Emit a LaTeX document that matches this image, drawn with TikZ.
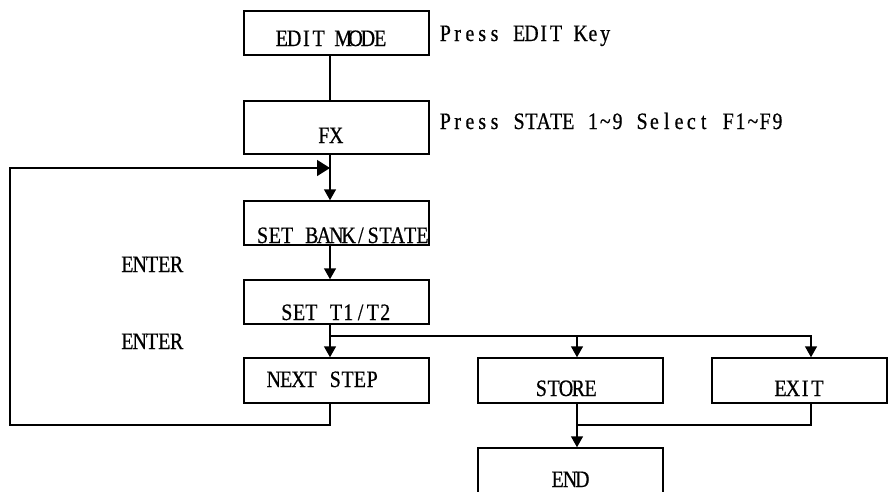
\documentclass[tikz,border=0pt]{standalone}
\usepackage{fontspec}
\setmainfont{Liberation Serif}[FakeStretch=0.85, FakeBold=0.6]
\usetikzlibrary{arrows.meta}
\ExplSyntaxOn
\NewDocumentCommand\monotext{m}{\str_map_inline:nn {#1} {\makebox[12.3pt]{##1}}}
\ExplSyntaxOff
\tikzset{
  box/.style={draw, line width=1.5pt, inner sep=0pt, minimum width=185pt, minimum height=44pt},
  lbl/.style={anchor=base, inner sep=0pt, font=\fontsize{23.5}{26}\selectfont},
  lbll/.style={anchor=base west, inner sep=0pt, font=\fontsize{23.5}{26}\selectfont},
  conn/.style={line width=1.5pt},
  arr/.style={conn, -{Triangle[length=11pt,width=12pt]}},
  bigarr/.style={conn, -{Triangle[length=13pt,width=16pt]}}
}
\begin{document}
\begin{tikzpicture}[x=1pt,y=-1pt]
\useasboundingbox (0,0) rectangle (888,491);
\clip (0,0) rectangle (888,491);
% boxes
\node[box] (edit) at (336.5,33) {};
\node[box, minimum height=53pt] (fx) at (336.5,127.5) {};
\node[box] (bank) at (336.5,223) {};
\node[box] (t12) at (336.5,302) {};
\node[box, minimum height=45pt] (next) at (336.5,380.5) {};
\node[box, minimum height=45pt] (store) at (570.5,380.5) {};
\node[box, minimum height=45pt, minimum width=175pt] (exit) at (799.5,380.5) {};
\node[box, minimum height=45pt] (end) at (570.5,470.5) {};
% texts
\node[lbl] (tedit) at (331,46) {\monotext{EDIT MODE}};
\node[lbl] (tfx) at (330,143) {\monotext{FX}};
\node[lbl] (tbank) at (342.5,243) {\monotext{SET BANK/STATE}};
\node[lbl] (tt12) at (336,320) {\monotext{SET T1/T2}};
\node[lbl] (tnext) at (323,387) {\monotext{NEXT STEP}};
\node[lbl] (tstore) at (566,396) {\monotext{STORE}};
\node[lbl] (texit) at (799,396) {\monotext{EXIT}};
\node[lbl] (tend) at (570,487) {\monotext{END}};
\node[lbl] (enter1) at (152,272) {\monotext{ENTER}};
\node[lbl] (enter2) at (152,349) {\monotext{ENTER}};
\node[lbll] (press1) at (439,41) {\monotext{Press EDIT Key}};
\node[lbll] (press2) at (439,129) {\monotext{Press STATE 1~9 Select F1~F9}};
% coordinates
\coordinate (sp) at (330,0);
\coordinate (stA) at (577,0);
\coordinate (exA) at (811,0);
\coordinate (br) at (330,336);
\coordinate (loopL) at (10,425);
\coordinate (loopT) at (330,168);
\coordinate (jn) at (577,425);
% connectors
\draw[conn] (edit.south -| sp) -- (fx.north -| sp);
\draw[arr] (fx.south -| sp) -- (bank.north -| sp);
\draw[arr] (bank.south -| sp) -- (t12.north -| sp);
\draw[arr] (t12.south -| sp) -- (next.north -| sp);
\draw[bigarr] (next.south -| sp) |- (loopL) |- (loopT);
\draw[arr] (br) -| (exit.north -| exA);
\draw[arr] (br -| stA) -- (store.north -| stA);
\draw[arr] (store.south -| stA) -- (end.north -| stA);
\draw[conn] (exit.south -| exA) |- (jn);
\end{tikzpicture}
\end{document}
